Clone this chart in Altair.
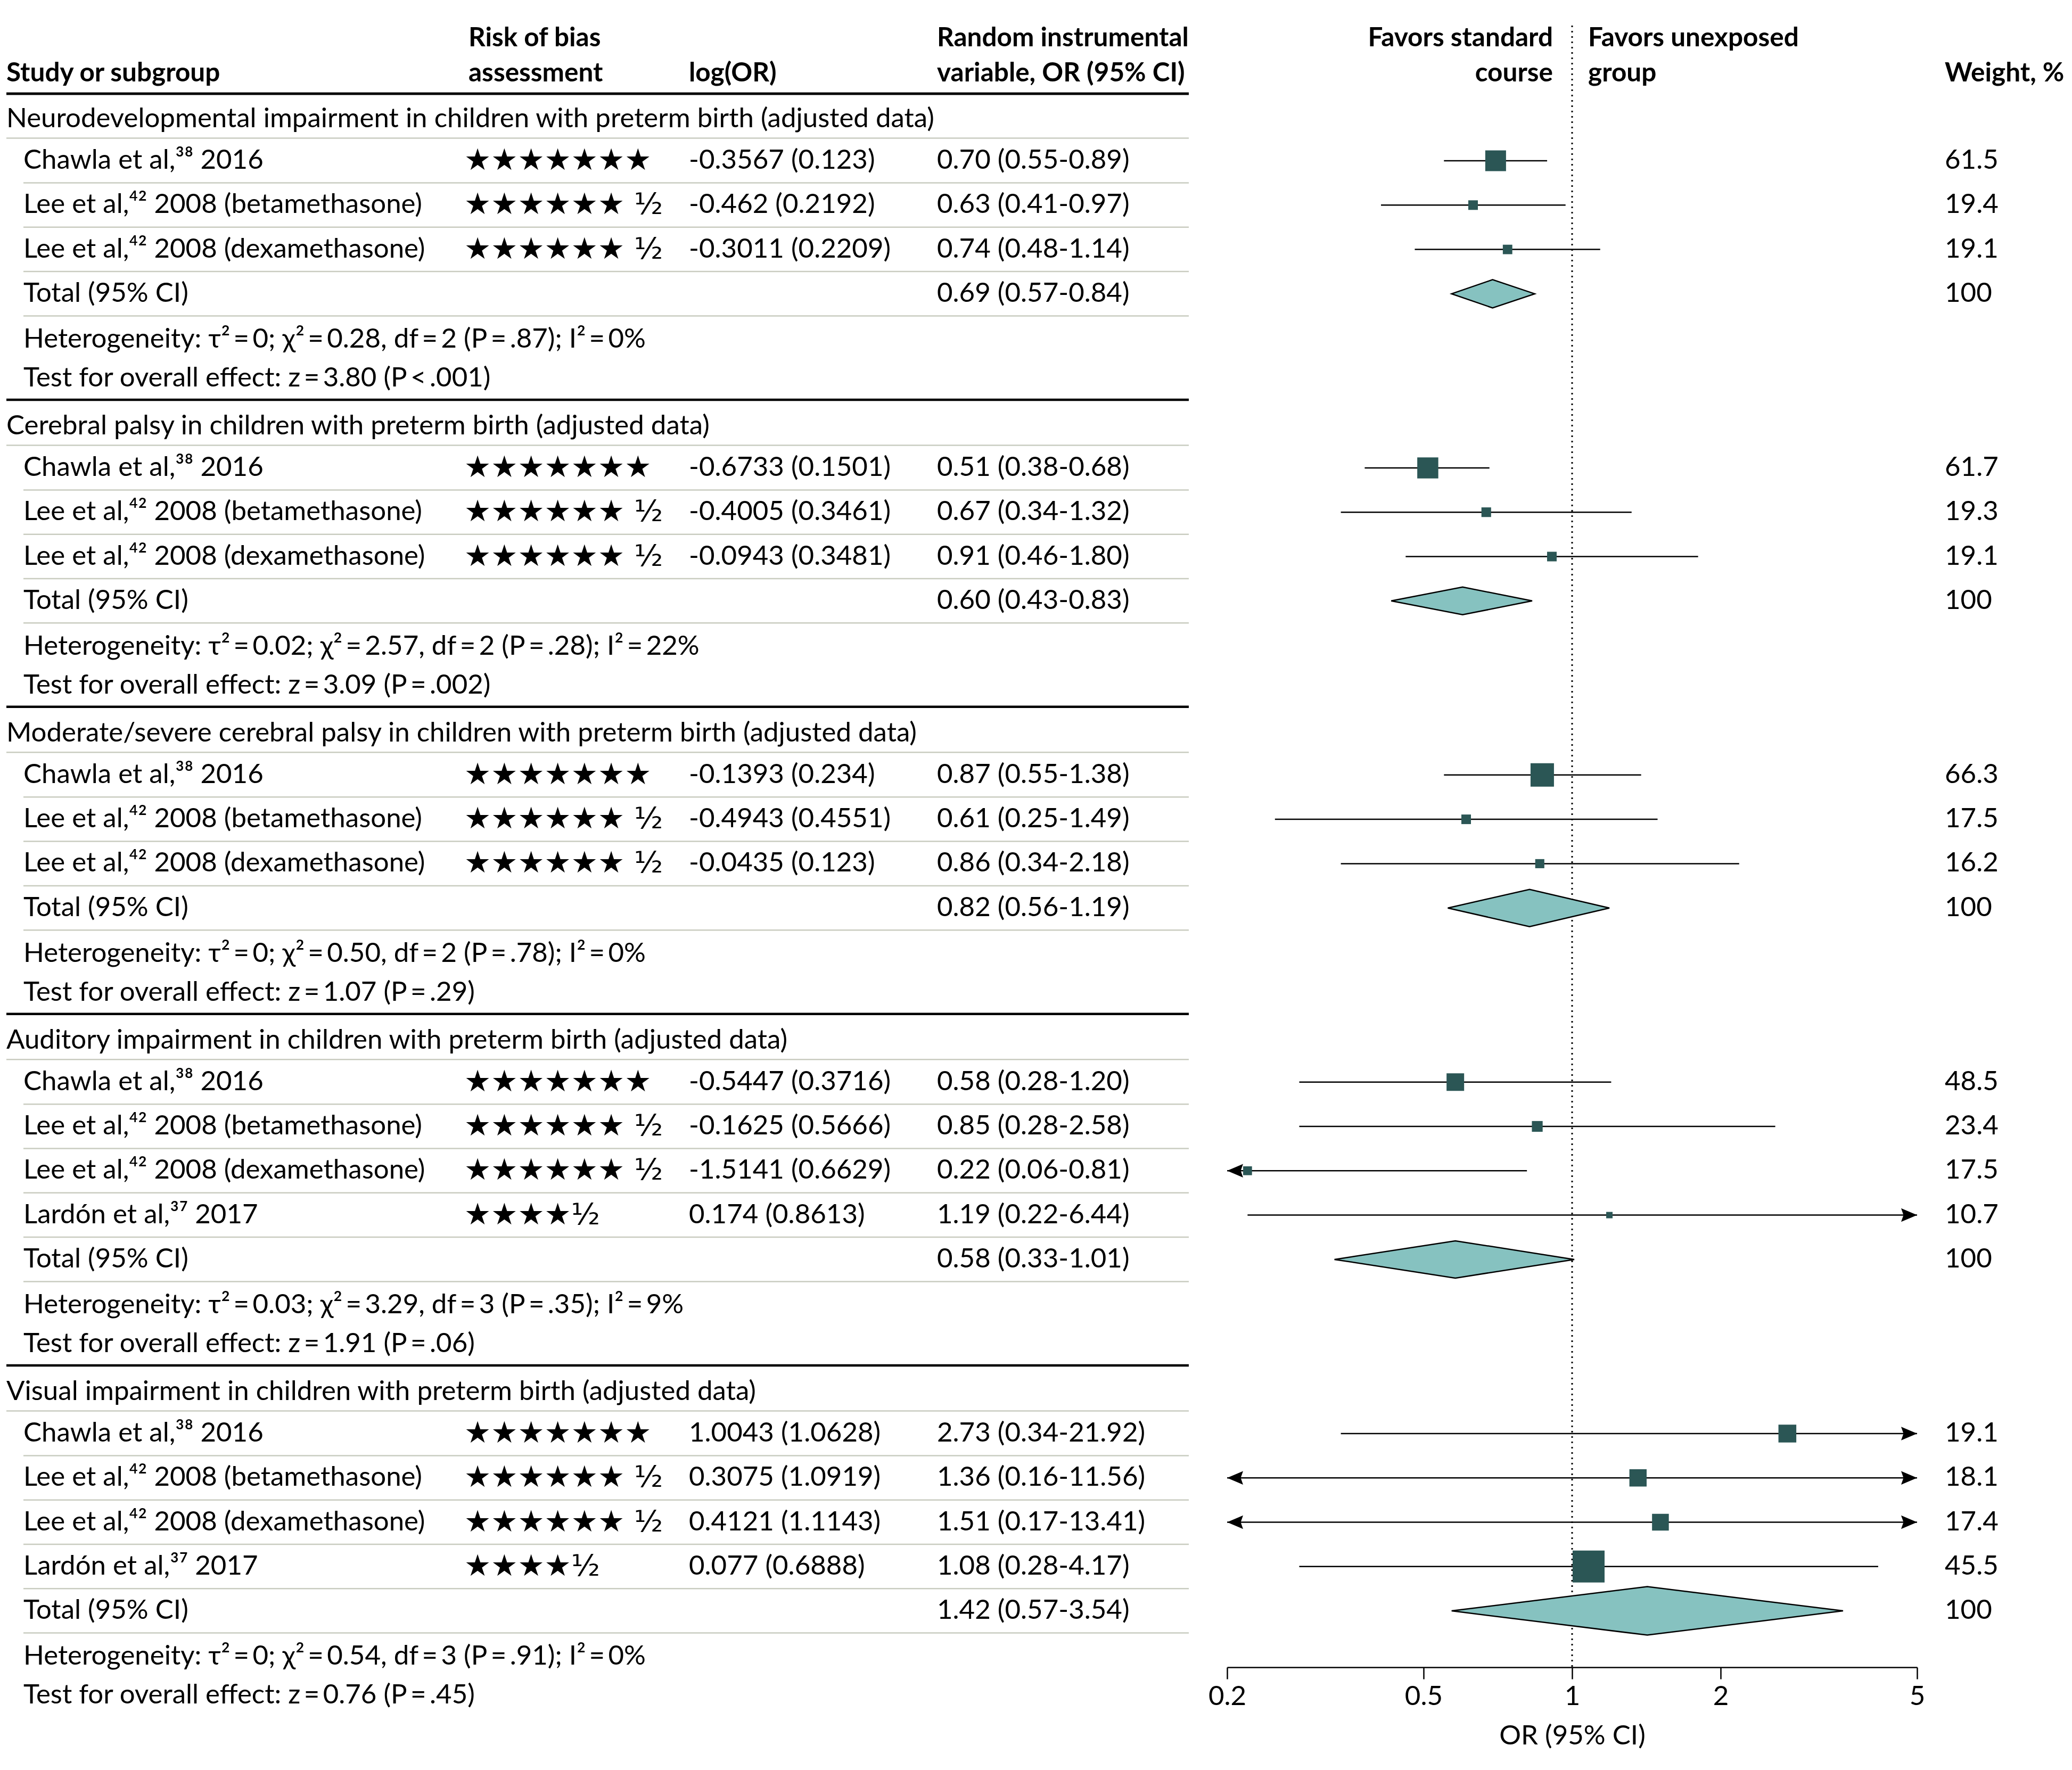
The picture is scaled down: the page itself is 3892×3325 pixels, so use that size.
import altair as alt
import pandas as pd

# ------------------------------------------------------------------ data
group_titles = [
    "Neurodevelopmental impairment in children with preterm birth (adjusted data)",
    "Cerebral palsy in children with preterm birth (adjusted data)",
    "Moderate/severe cerebral palsy in children with preterm birth (adjusted data)",
    "Auditory impairment in children with preterm birth (adjusted data)",
    "Visual impairment in children with preterm birth (adjusted data)",
]
CH = "Chawla et al,³⁸ 2016"
LB = "Lee et al,⁴² 2008 (betamethasone)"
LD = "Lee et al,⁴² 2008 (dexamethasone)"
LA = "Lardón et al,³⁷ 2017"
study_names = [
    [CH, LB, LD],
    [CH, LB, LD],
    [CH, LB, LD],
    [CH, LB, LD, LA],
    [CH, LB, LD, LA],
]
S7 = "★★★★★★★"
S65 = "★★★★★★ ½"
S45 = "★★★★½"
risk_of_bias = [
    [S7, S65, S65],
    [S7, S65, S65],
    [S7, S65, S65],
    [S7, S65, S65, S45],
    [S7, S65, S65, S45],
]
log_or = [
    [-0.3567, -0.462, -0.3011],
    [-0.6733, -0.4005, -0.0943],
    [-0.1393, -0.4943, -0.0435],
    [-0.5447, -0.1625, -1.5141, 0.174],
    [1.0043, 0.3075, 0.4121, 0.077],
]
log_or_se = [
    [0.123, 0.2192, 0.2209],
    [0.1501, 0.3461, 0.3481],
    [0.234, 0.4551, 0.123],
    [0.3716, 0.5666, 0.6629, 0.8613],
    [1.0628, 1.0919, 1.1143, 0.6888],
]
odds_ratio = [
    [0.70, 0.63, 0.74],
    [0.51, 0.67, 0.91],
    [0.87, 0.61, 0.86],
    [0.58, 0.85, 0.22, 1.19],
    [2.73, 1.36, 1.51, 1.08],
]
ci_lower = [
    [0.55, 0.41, 0.48],
    [0.38, 0.34, 0.46],
    [0.55, 0.25, 0.34],
    [0.28, 0.28, 0.06, 0.22],
    [0.34, 0.16, 0.17, 0.28],
]
ci_upper = [
    [0.89, 0.97, 1.14],
    [0.68, 1.32, 1.80],
    [1.38, 1.49, 2.18],
    [1.20, 2.58, 0.81, 6.44],
    [21.92, 11.56, 13.41, 4.17],
]
weights = [
    [61.5, 19.4, 19.1],
    [61.7, 19.3, 19.1],
    [66.3, 17.5, 16.2],
    [48.5, 23.4, 17.5, 10.7],
    [19.1, 18.1, 17.4, 45.5],
]
total_or = [0.69, 0.60, 0.82, 0.58, 1.42]
total_lower = [0.57, 0.43, 0.56, 0.33, 0.57]
total_upper = [0.84, 0.83, 1.19, 1.01, 3.54]
total_weight = [100, 100, 100, 100, 100]
heterogeneity = [
    "Heterogeneity: τ²\u2009=\u20090; χ²\u2009=\u20090.28, df\u2009=\u20092 (P\u2009=\u2009.87); I²\u2009=\u20090%",
    "Heterogeneity: τ²\u2009=\u20090.02; χ²\u2009=\u20092.57, df\u2009=\u20092 (P\u2009=\u2009.28); I²\u2009=\u200922%",
    "Heterogeneity: τ²\u2009=\u20090; χ²\u2009=\u20090.50, df\u2009=\u20092 (P\u2009=\u2009.78); I²\u2009=\u20090%",
    "Heterogeneity: τ²\u2009=\u20090.03; χ²\u2009=\u20093.29, df\u2009=\u20093 (P\u2009=\u2009.35); I²\u2009=\u20099%",
    "Heterogeneity: τ²\u2009=\u20090; χ²\u2009=\u20090.54, df\u2009=\u20093 (P\u2009=\u2009.91); I²\u2009=\u20090%",
]
overall_effect = [
    "Test for overall effect: z\u2009=\u20093.80 (P\u2009<\u2009.001)",
    "Test for overall effect: z\u2009=\u20093.09 (P\u2009=\u2009.002)",
    "Test for overall effect: z\u2009=\u20091.07 (P\u2009=\u2009.29)",
    "Test for overall effect: z\u2009=\u20091.91 (P\u2009=\u2009.06)",
    "Test for overall effect: z\u2009=\u20090.76 (P\u2009=\u2009.45)",
]
axis_ticks = [0.2, 0.5, 1, 2, 5]
axis_title = "OR (95% CI)"
header_left = ["Study or subgroup"]
header_rob = ["Risk of bias", "assessment"]
header_logor = ["log(OR)"]
header_or = ["Random instrumental", "variable, OR (95% CI)"]
header_favors_left = ["Favors standard", "course"]
header_favors_right = ["Favors unexposed", "group"]
header_weight = ["Weight, %"]

# ------------------------------------------------------------------ style / layout
FONT = "Lato"
FS = 51
HEAD_FS = 49.5
STAR_FONT = "DejaVu Sans"
STAR_FS = 56
OFF = 8                      # page margin
W, H = 3876, 3124            # plot area (axis line at bottom)
X_LO_PX, X_HI_PX = 2305, 3601
COL_TITLE, COL_NAME, COL_ROB, COL_LOG, COL_OR = 12, 44, 872, 1294, 1760
COL_FAV_L, COL_FAV_R, COL_W = 2917, 2983, 3653
LINE_L, LINE_R = 12, 2233
U = 83.3
HEAD1, HEAD2, HEAD_LINE = 72, 138, 176
FIRST_TITLE = 224
box_max_side = [39, 39.5, 44, 33, 60]
diamond_height = [53, 52, 70, 70, 91]
BOX_COLOR = "#2b5655"
DIAMOND_FILL = "#86c2c0"
SEP_COLOR = "#c9ccc0"
DOMAIN = [0.2, 5]

# ------------------------------------------------------------------ build tables
titles, names, robs, logs, ors, wts, totals_lbl, hets, tests = ([] for _ in range(9))
thin_long, thin_short, thick = [], [], [HEAD_LINE]
ci_rows, boxes, left_arrows, right_arrows, diamonds = [], [], [], [], []

T = FIRST_TITLE
for g in range(len(group_titles)):
    n = len(study_names[g])
    titles.append(dict(y=T - OFF, text=group_titles[g]))
    thin_long.append(dict(y=T + 35.5 - OFF))
    wmax = max(weights[g])
    for k in range(n):
        y = T + 78 + k * U - OFF
        names.append(dict(y=y, text=study_names[g][k]))
        robs.append(dict(y=y, text=risk_of_bias[g][k]))
        logs.append(dict(y=y, text=f"{log_or[g][k]} ({log_or_se[g][k]})"))
        ors.append(dict(y=y, text=f"{odds_ratio[g][k]:.2f} ({ci_lower[g][k]:.2f}-{ci_upper[g][k]:.2f})"))
        wts.append(dict(y=y, text=f"{weights[g][k]:g}"))
        lo, hi = ci_lower[g][k], ci_upper[g][k]
        ci_rows.append(dict(y=y, lo=max(lo, DOMAIN[0]), hi=min(hi, DOMAIN[1])))
        side = box_max_side[g] * (weights[g][k] / wmax) ** 0.67
        boxes.append(dict(y=y, orv=odds_ratio[g][k], size=side * side))
        if lo < DOMAIN[0]:
            left_arrows.append(dict(y=y, tip=DOMAIN[0]))
        if hi > DOMAIN[1]:
            right_arrows.append(dict(y=y, tip=DOMAIN[1]))
        thin_short.append(dict(y=y + 41.5))
    ty = T + 78 + n * U - OFF
    totals_lbl.append(dict(y=ty, text="Total (95% CI)"))
    ors.append(dict(y=ty, text=f"{total_or[g]:.2f} ({total_lower[g]:.2f}-{total_upper[g]:.2f})"))
    wts.append(dict(y=ty, text=f"{total_weight[g]:g}"))
    h = diamond_height[g] / 2
    diamonds += [
        dict(grp=g, x=total_lower[g], yt=ty, yb=ty),
        dict(grp=g, x=total_or[g], yt=ty - h, yb=ty + h),
        dict(grp=g, x=total_upper[g], yt=ty, yb=ty),
    ]
    thin_short.append(dict(y=ty + 41.5))
    hy = ty + 86
    tsy = hy + 73
    hets.append(dict(y=hy, text=heterogeneity[g]))
    tests.append(dict(y=tsy, text=overall_effect[g]))
    thick.append(tsy + 40 + OFF)
    T = tsy + OFF + 40 + 50
thick = [dict(y=v - OFF) for v in thick[:-1]]

yscale = alt.Scale(domain=[0, H], range=[0, H], nice=False, zero=False)
xscale = alt.Scale(type="log", domain=DOMAIN, range=[X_LO_PX - OFF, X_HI_PX - OFF], nice=False)
xaxis = alt.Axis(values=axis_ticks, format="~g", title=axis_title, grid=False,
                 domainColor="black", domainWidth=2.5, tickColor="black", tickWidth=2.5,
                 tickSize=22, labelFont=FONT, labelFontSize=FS, labelColor="black",
                 labelPadding=8, labelFlush=False, titleFont=FONT, titleFontSize=FS,
                 titleFontWeight="normal", titleColor="black", titlePadding=24)


def Y(field="y"):
    return alt.Y(f"{field}:Q", scale=yscale, axis=None)


def X(field):
    return alt.X(f"{field}:Q", scale=xscale, axis=xaxis)


def txt(rows, xpx, align="left", weight="normal", font=FONT, size=FS):
    return alt.Chart(pd.DataFrame(rows)).mark_text(
        align=align, baseline="middle", font=font, fontSize=size,
        fontWeight=weight, color="black"
    ).encode(x=alt.value(xpx - OFF), y=Y(), text="text:N")


def head(lines, xpx, align="left"):
    ys = [HEAD2 - OFF] if len(lines) == 1 else [HEAD1 - OFF, HEAD2 - OFF]
    return txt([dict(y=yy, text=t) for yy, t in zip(ys, lines)], xpx, align, "bold",
               size=HEAD_FS)


def hline(rows, x1, color, width):
    return alt.Chart(pd.DataFrame(rows)).mark_rule(color=color, strokeWidth=width).encode(
        x=alt.value(x1 - OFF), x2=alt.value(LINE_R - OFF), y=Y())


layers = [
    hline(thin_long, LINE_L, SEP_COLOR, 2.5),
    hline(thin_short, COL_NAME, SEP_COLOR, 2.5),
    hline(thick + [dict(y=HEAD_LINE - OFF)], LINE_L, "black", 4.5),
    alt.Chart(pd.DataFrame({"ref": [1]})).mark_rule(
        color="black", strokeWidth=3, strokeDash=[3, 7]
    ).encode(x=X("ref"), y=alt.value(48 - OFF), y2=alt.value(H)),
    alt.Chart(pd.DataFrame(ci_rows)).mark_rule(color="black", strokeWidth=2.5).encode(
        x=X("lo"), x2="hi:Q", y=Y()),
    alt.Chart(pd.DataFrame(left_arrows)).mark_point(
        shape="M0,0 L2,-0.85 L1.7,0 L2,0.85 Z", filled=True, color="black", opacity=1,
        size=900).encode(x=X("tip"), y=Y()),
    alt.Chart(pd.DataFrame(right_arrows)).mark_point(
        shape="M0,0 L-2,-0.85 L-1.7,0 L-2,0.85 Z", filled=True, color="black", opacity=1,
        size=900).encode(x=X("tip"), y=Y()),
    alt.Chart(pd.DataFrame(boxes)).mark_square(color=BOX_COLOR, opacity=1, filled=True).encode(
        x=X("orv"), y=Y(), size=alt.Size("size:Q", scale=None, legend=None)),
    alt.Chart(pd.DataFrame(diamonds)).mark_area(
        fill=DIAMOND_FILL, stroke="black", strokeWidth=2.5, opacity=1).encode(
        x=X("x"), y=Y("yt"), y2="yb:Q", detail="grp:N"),
    txt(titles, COL_TITLE),
    txt(names + totals_lbl + hets + tests, COL_NAME),
    txt(robs, COL_ROB, font=STAR_FONT, size=STAR_FS),
    txt(logs, COL_LOG),
    txt(ors, COL_OR),
    txt(wts, COL_W),
    head(header_left, COL_TITLE),
    head(header_rob, COL_ROB + 8),
    head(header_logor, COL_LOG),
    head(header_or, COL_OR),
    head(header_favors_left, COL_FAV_L, "right"),
    head(header_favors_right, COL_FAV_R),
    head(header_weight, COL_W),
]

chart = alt.layer(*layers).properties(
    width=W, height=H, padding=0, background="white"
).configure_view(strokeWidth=0)

chart.save("out.html", embed_options={"renderer": "svg", "actions": False})
